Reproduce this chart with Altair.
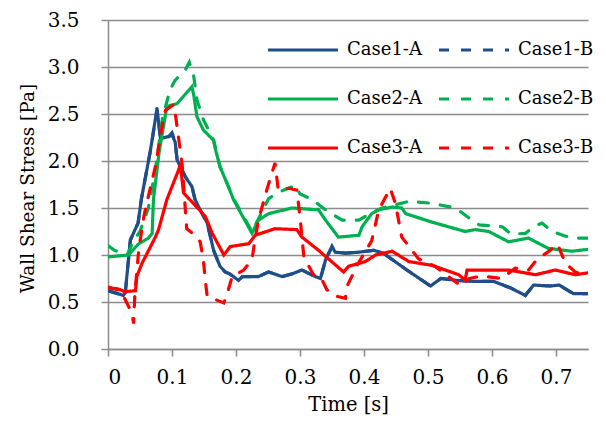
import altair as alt
import pandas as pd

series_names = ["Case1-A", "Case1-B", "Case2-A", "Case2-B", "Case3-A", "Case3-B"]
series_colors = ["#1F4E88", "#1F4E88", "#00B050", "#00B050", "#FF0000", "#FF0000"]
series_dashes = [[1, 0], [10, 12], [1, 0], [10, 12], [1, 0], [10, 12]]
# legend fills column by column: A cases in column 1, B cases in column 2
legend_order = ["Case1-A", "Case2-A", "Case3-A", "Case1-B", "Case2-B", "Case3-B"]

x_ticks = [0, 0.1, 0.2, 0.3, 0.4, 0.5, 0.6, 0.7]
y_ticks = [0, 0.5, 1.0, 1.5, 2.0, 2.5, 3.0, 3.5]

case1a_t = [0, 0.01, 0.024, 0.027, 0.035, 0.047, 0.052, 0.066, 0.0766, 0.082, 0.095, 0.1, 0.105, 0.108,
            0.121, 0.131, 0.136, 0.144, 0.155, 0.165, 0.175, 0.183, 0.19, 0.204, 0.21, 0.235, 0.251,
            0.272, 0.288, 0.303, 0.324, 0.332, 0.34, 0.35, 0.355, 0.371, 0.392, 0.415, 0.43, 0.467,
            0.504, 0.52, 0.545, 0.571, 0.602, 0.629, 0.652, 0.665, 0.691, 0.705, 0.727, 0.75]
case1a_v = [0.62, 0.6, 0.57, 0.6, 1.16, 1.34, 1.59, 2.1, 2.56, 2.24, 2.26, 2.28, 2.2, 2.01,
            1.83, 1.73, 1.59, 1.48, 1.34, 1.05, 0.88, 0.82, 0.8, 0.73, 0.77, 0.77, 0.82,
            0.77, 0.8, 0.84, 0.77, 0.75, 0.95, 1.09, 1.03, 1.02, 1.03, 1.05, 1.02, 0.84,
            0.67, 0.75, 0.73, 0.72, 0.72, 0.65, 0.57, 0.68, 0.67, 0.68, 0.59, 0.59]

case1b_t = [0, 0.01, 0.024, 0.027, 0.035, 0.047, 0.052, 0.066, 0.0766, 0.082, 0.095, 0.1, 0.105, 0.108,
            0.121, 0.131, 0.136, 0.144, 0.155, 0.165, 0.175, 0.183, 0.19, 0.204, 0.21, 0.235, 0.251,
            0.272, 0.288, 0.303, 0.324, 0.332, 0.34, 0.35, 0.355, 0.371, 0.392, 0.415, 0.43, 0.467,
            0.504, 0.52, 0.545, 0.571, 0.602, 0.629, 0.652, 0.665, 0.691, 0.705, 0.727, 0.75]
case1b_v = [0.62, 0.6, 0.57, 0.6, 1.16, 1.34, 1.59, 2.1, 2.54, 2.24, 2.26, 2.3, 2.2, 2.01,
            1.83, 1.73, 1.59, 1.48, 1.34, 1.05, 0.88, 0.82, 0.8, 0.73, 0.77, 0.77, 0.82,
            0.77, 0.8, 0.84, 0.77, 0.75, 0.95, 1.09, 1.03, 1.02, 1.03, 1.05, 1.02, 0.84,
            0.67, 0.75, 0.73, 0.72, 0.72, 0.65, 0.57, 0.68, 0.67, 0.68, 0.59, 0.59]

case2a_t = [0, 0.032, 0.048, 0.063, 0.069, 0.071, 0.08, 0.092, 0.108, 0.131, 0.134, 0.139, 0.149,
            0.165, 0.168, 0.175, 0.188, 0.196, 0.225, 0.235, 0.251, 0.288, 0.329, 0.34, 0.36, 0.392,
            0.397, 0.412, 0.423, 0.444, 0.459, 0.465, 0.506, 0.558, 0.574, 0.595, 0.626, 0.657,
            0.688, 0.725, 0.75]
case2a_v = [0.98, 1.0, 1.12, 1.18, 1.23, 1.59, 2.1, 2.58, 2.61, 2.79, 2.7, 2.47, 2.33,
            2.22, 2.12, 1.94, 1.73, 1.59, 1.23, 1.37, 1.44, 1.5, 1.48, 1.37, 1.19, 1.21,
            1.3, 1.44, 1.48, 1.51, 1.5, 1.44, 1.35, 1.25, 1.27, 1.25, 1.14, 1.18,
            1.07, 1.04, 1.06]

case2b_t = [0, 0.01, 0.03, 0.04, 0.05, 0.063, 0.074, 0.085, 0.097, 0.105, 0.121, 0.127, 0.134,
            0.139, 0.149, 0.155, 0.165, 0.175, 0.196, 0.225, 0.24, 0.251, 0.267, 0.293, 0.3,
            0.319, 0.34, 0.366, 0.392, 0.407, 0.428, 0.47, 0.506, 0.543, 0.569, 0.58, 0.616,
            0.63, 0.652, 0.665, 0.678, 0.694, 0.715, 0.73, 0.75]
case2b_v = [1.1, 1.05, 1.0, 1.15, 1.25, 1.5, 1.9, 2.45, 2.76, 2.86, 2.97, 3.05, 2.9,
            2.65, 2.44, 2.36, 2.22, 1.94, 1.6, 1.25, 1.45, 1.6, 1.67, 1.74, 1.65,
            1.59, 1.48, 1.37, 1.37, 1.43, 1.5, 1.57, 1.55, 1.5, 1.37, 1.32, 1.3,
            1.22, 1.23, 1.3, 1.34, 1.25, 1.2, 1.18, 1.18]

case3a_t = [0, 0.015, 0.027, 0.043, 0.045, 0.053, 0.074, 0.079, 0.092, 0.11, 0.113, 0.118, 0.136,
            0.152, 0.163, 0.181, 0.191, 0.22, 0.23, 0.261, 0.295, 0.303, 0.329, 0.368, 0.376,
            0.402, 0.418, 0.444, 0.47, 0.506, 0.548, 0.558, 0.561, 0.59, 0.626, 0.668, 0.699,
            0.73, 0.75]
case3a_v = [0.65, 0.64, 0.61, 0.62, 0.77, 0.91, 1.19, 1.27, 1.59, 1.9, 1.96, 1.66, 1.53,
            1.41, 1.23, 1.0, 1.09, 1.12, 1.21, 1.28, 1.27, 1.19, 1.05, 0.82, 0.88,
            0.93, 1.0, 1.04, 0.93, 0.89, 0.79, 0.73, 0.84, 0.84, 0.84, 0.79, 0.84,
            0.79, 0.81]

case3b_t = [0, 0.02, 0.0375, 0.04, 0.042, 0.048, 0.056, 0.063, 0.074, 0.087, 0.09, 0.1025, 0.105,
            0.11, 0.116, 0.123, 0.139, 0.144, 0.149, 0.152, 0.155, 0.17, 0.181, 0.188, 0.194,
            0.212, 0.225, 0.228, 0.235, 0.248, 0.261, 0.266, 0.282, 0.295, 0.3, 0.306, 0.321,
            0.332, 0.342, 0.358, 0.371, 0.373, 0.39, 0.412, 0.423, 0.441, 0.449, 0.459, 0.475,
            0.485, 0.511, 0.532, 0.55, 0.565, 0.579, 0.59, 0.616, 0.636, 0.657, 0.67, 0.691,
            0.702, 0.715, 0.73, 0.75]
case3b_v = [0.66, 0.62, 0.38, 0.27, 0.59, 1.05, 1.41, 1.62, 1.94, 2.47, 2.54, 2.6, 2.51,
            2.26, 1.95, 1.28, 1.19, 1.14, 0.95, 0.73, 0.56, 0.52, 0.49, 0.63, 0.77,
            0.84, 0.95, 1.09, 1.37, 1.69, 1.98, 1.69, 1.71, 1.69, 1.41, 0.98, 0.79,
            0.77, 0.63, 0.56, 0.54, 0.66, 0.9, 1.15, 1.48, 1.71, 1.55, 1.19, 1.05,
            0.96, 0.88, 0.77, 0.68, 0.75, 0.77, 0.77, 0.75, 0.86, 0.84, 0.95, 1.05,
            1.12, 0.91, 0.82, 0.77]

all_t = [case1a_t, case1b_t, case2a_t, case2b_t, case3a_t, case3b_t]
all_v = [case1a_v, case1b_v, case2a_v, case2b_v, case3a_v, case3b_v]

rows = []
for name, ts, vs in zip(series_names, all_t, all_v):
    for t, v in zip(ts, vs):
        rows.append({"series": name, "t": t, "v": v})
df = pd.DataFrame(rows)

color_of = dict(zip(series_names, series_colors))
dash_of = dict(zip(series_names, series_dashes))

FONT = "DejaVu Serif"
GRAY = "#8C8C8C"

legend = alt.Legend(
    title=None,
    orient="none",
    legendX=158,
    legendY=-7,
    columns=2,
    symbolType="stroke",
    symbolSize=4900,
    symbolStrokeWidth=3.2,
    labelFont=FONT,
    labelFontSize=18,
    labelColor="black",
    labelOffset=7,
    columnPadding=10,
    rowPadding=3,
    labelLimit=200,
)

chart = alt.Chart(df).mark_line(strokeWidth=3.2, strokeCap="round", clip=True).encode(
    x=alt.X("t:Q",
            scale=alt.Scale(domain=[0, 0.75], nice=False, zero=False),
            axis=alt.Axis(values=x_ticks, grid=False, title="Time [s]",
                          labelExpr="datum.value == 0 ? '0' : format(datum.value, '.1f')",
                          tickSize=7, labelPadding=11, titleFontSize=19.5,
                          titleX=240, titleY=61, titleBaseline="alphabetic", titleAlign="center",
                          domainColor=GRAY, tickColor=GRAY, domainWidth=1.5, tickWidth=1.5)),
    y=alt.Y("v:Q",
            scale=alt.Scale(domain=[0, 3.5], nice=False),
            axis=alt.Axis(values=y_ticks, format=".1f", grid=True, gridColor=GRAY, gridWidth=1.5,
                          title="Wall Shear Stress [Pa]", tickSize=7, labelPadding=22,
                          titleFontSize=18.5,
                          titleX=-75, titleY=168, titleAngle=270, titleAlign="center",
                          titleBaseline="alphabetic",
                          domainColor=GRAY, tickColor=GRAY,
                          domainWidth=1.5, tickWidth=1.5)),
    color=alt.Color("series:N",
                    scale=alt.Scale(domain=legend_order, range=[color_of[s] for s in legend_order]),
                    legend=legend),
    strokeDash=alt.StrokeDash("series:N",
                              scale=alt.Scale(domain=legend_order, range=[dash_of[s] for s in legend_order]),
                              legend=legend),
).properties(
    width=480,
    height=329,
    autosize=alt.AutoSizeParams(type="none"),
    padding={"left": 108, "top": 20, "right": 18, "bottom": 77},
    background="white",
).configure_view(
    stroke=None
).configure_axis(
    labelFont=FONT, labelFontSize=20, labelColor="black",
    titleFont=FONT, titleFontWeight="normal", titleColor="black",
)

chart.save("out.html", embed_options={"renderer": "svg", "actions": False})
